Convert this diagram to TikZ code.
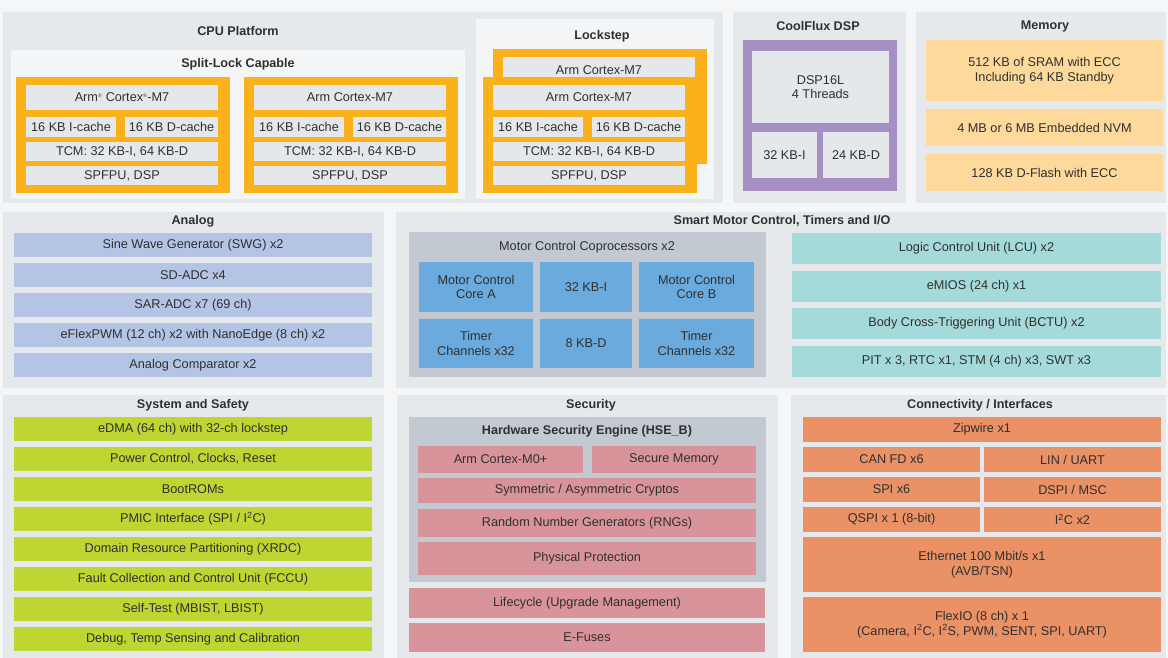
\documentclass[tikz,border=0pt]{standalone}
\usepackage{fontspec}
\setmainfont{Liberation Sans}
\definecolor{bgc}{HTML}{F4F6F8}
\definecolor{panelc}{HTML}{E5E9EC}
\definecolor{innerc}{HTML}{F3F5F7}
\definecolor{cellc}{HTML}{E4E8EB}
\definecolor{orc}{HTML}{FAB11C}
\definecolor{purc}{HTML}{A68FC2}
\definecolor{memc}{HTML}{FDD99B}
\definecolor{anac}{HTML}{B3C4E5}
\definecolor{grayc}{HTML}{C2C9D0}
\definecolor{bluec}{HTML}{6AAADD}
\definecolor{tealc}{HTML}{A5DADB}
\definecolor{grnc}{HTML}{BED532}
\definecolor{pinkc}{HTML}{D9939B}
\definecolor{conc}{HTML}{EA9165}
\definecolor{txtc}{HTML}{303030}
\newcommand{\mybox}[7]{\node[#6, minimum width={(#4-(#2))*1pt}, minimum height={(#5-(#3))*1pt}] (#1) at ({(#2+#4)/2},{(#3+#5)/2}) {#7};}
\tikzset{
  blk/.style={draw=none, inner sep=1pt, outer sep=0pt, align=center, text=txtc, font=\fontsize{12.7}{14.5}\selectfont},
  panel/.style={blk, fill=panelc},
  inner/.style={blk, fill=innerc},
  cell/.style={blk, fill=cellc},
  orange/.style={blk, fill=orc},
  purple/.style={blk, fill=purc},
  mem/.style={blk, fill=memc},
  ana/.style={blk, fill=anac},
  gbox/.style={blk, fill=grayc},
  blue/.style={blk, fill=bluec},
  teal/.style={blk, fill=tealc},
  grn/.style={blk, fill=grnc},
  pink/.style={blk, fill=pinkc},
  con/.style={blk, fill=conc},
  ttl/.style={inner sep=0pt, text=txtc, font=\fontsize{12.6}{14.5}\selectfont\bfseries},
  sub/.style={inner sep=0pt, text=txtc, font=\fontsize{12.7}{14.5}\selectfont},
}
\begin{document}
\begin{tikzpicture}[x=1pt,y=-1pt]
\useasboundingbox (0,0) rectangle (1168,658);
\fill[bgc] (0,0) rectangle (1168,658);
% ---------- CPU platform
\mybox{pcpu}{3}{12}{723}{203}{panel}{}
\mybox{psplit}{11}{50}{465}{199}{inner}{}
\mybox{plock}{476}{19}{714}{199}{inner}{}
\node[ttl] (tcpu) at (238,31) {CPU Platform};
\node[ttl] (tsplit) at (238,64) {Split-Lock Capable};
\node[ttl] (tlock) at (602,36) {Lockstep};
% core 1
\mybox{oa}{16}{77}{230}{193}{orange}{}
\mybox{a1}{26}{85}{218}{110}{cell}{Arm\textsuperscript{\tiny®} Cortex\textsuperscript{\tiny®}-M7}
\mybox{a2}{26}{117}{116}{137}{cell}{16 KB I-cache}
\mybox{a3}{125}{117}{218}{137}{cell}{16 KB D-cache}
\mybox{a4}{26}{142}{218}{161}{cell}{TCM: 32 KB-I, 64 KB-D}
\mybox{a5}{26}{166}{218}{185}{cell}{SPFPU, DSP}
% core 2
\mybox{ob}{244}{77}{458}{193}{orange}{}
\mybox{b1}{254}{85}{446}{110}{cell}{Arm Cortex-M7}
\mybox{b2}{254}{117}{344}{137}{cell}{16 KB I-cache}
\mybox{b3}{353}{117}{446}{137}{cell}{16 KB D-cache}
\mybox{b4}{254}{142}{446}{161}{cell}{TCM: 32 KB-I, 64 KB-D}
\mybox{b5}{254}{166}{446}{185}{cell}{SPFPU, DSP}
% lockstep back
\mybox{oc}{493}{49}{707}{164}{orange}{}
\mybox{c0}{503}{57}{695}{83}{cell}{Arm Cortex-M7}
% lockstep front
\mybox{od}{483}{77}{697}{193}{orange}{}
\mybox{d1}{493}{85}{685}{110}{cell}{Arm Cortex-M7}
\mybox{d2}{493}{117}{583}{137}{cell}{16 KB I-cache}
\mybox{d3}{592}{117}{685}{137}{cell}{16 KB D-cache}
\mybox{d4}{493}{142}{685}{161}{cell}{TCM: 32 KB-I, 64 KB-D}
\mybox{d5}{493}{166}{685}{185}{cell}{SPFPU, DSP}
% ---------- CoolFlux
\mybox{pdsp}{733}{12}{906}{203}{panel}{}
\node[ttl] (tdsp) at (818,26) {CoolFlux DSP};
\mybox{pu}{743}{40}{897}{191}{purple}{}
\mybox{e1}{752}{51}{889}{123}{cell}{DSP16L\\4 Threads}
\mybox{e2}{752}{132}{817}{178}{cell}{32 KB-I}
\mybox{e3}{823}{132}{889}{178}{cell}{24 KB-D}
% ---------- Memory
\mybox{pmem}{916}{12}{1166}{203}{panel}{}
\node[ttl] (tmem) at (1045,26) {Memory};
\mybox{m1}{926}{40}{1163}{101}{mem}{512 KB of SRAM with ECC\\Including 64 KB Standby}
\mybox{m2}{926}{109}{1163}{146}{mem}{4 MB or 6 MB Embedded NVM}
\mybox{m3}{926}{154}{1163}{191}{mem}{128 KB D-Flash with ECC}
% ---------- Analog
\mybox{pana}{3}{212}{384}{388}{panel}{}
\node[ttl] (tana) at (193,221) {Analog};
\mybox{n1}{14}{233}{372}{257}{ana}{Sine Wave Generator (SWG) x2}
\mybox{n2}{14}{263}{372}{287}{ana}{SD-ADC x4}
\mybox{n3}{14}{293}{372}{317}{ana}{SAR-ADC x7 (69 ch)}
\mybox{n4}{14}{323}{372}{347}{ana}{eFlexPWM (12 ch) x2 with NanoEdge (8 ch) x2}
\mybox{n5}{14}{353}{372}{377}{ana}{Analog Comparator x2}
% ---------- Smart motor control
\mybox{pmot}{396}{212}{1166}{388}{panel}{}
\node[ttl] (tmot) at (782,221) {Smart Motor Control, Timers and I/O};
\mybox{g0}{409}{232}{766}{377}{gbox}{}
\node[sub] (tg0) at (587,247) {Motor Control Coprocessors x2};
\mybox{k1}{419}{262}{533}{312}{blue}{Motor Control\\Core A}
\mybox{k2}{540}{262}{632}{312}{blue}{32 KB-I}
\mybox{k3}{639}{262}{754}{312}{blue}{Motor Control\\Core B}
\mybox{k4}{419}{319}{533}{368}{blue}{Timer\\Channels x32}
\mybox{k5}{540}{319}{632}{368}{blue}{8 KB-D}
\mybox{k6}{639}{319}{754}{368}{blue}{Timer\\Channels x32}
\mybox{t1}{792}{233}{1161}{264}{teal}{Logic Control Unit (LCU) x2}
\mybox{t2}{792}{271}{1161}{302}{teal}{eMIOS (24 ch) x1}
\mybox{t3}{792}{308}{1161}{339}{teal}{Body Cross-Triggering Unit (BCTU) x2}
\mybox{t4}{792}{346}{1161}{377}{teal}{PIT x 3, RTC x1, STM (4 ch) x3, SWT x3}
% ---------- System and safety
\mybox{psys}{3}{395}{384}{658}{panel}{}
\node[ttl] (tsys) at (193,405) {System and Safety};
\mybox{s1}{14}{417}{372}{441}{grn}{eDMA (64 ch) with 32-ch lockstep}
\mybox{s2}{14}{447}{372}{471}{grn}{Power Control, Clocks, Reset}
\mybox{s3}{14}{477}{372}{501}{grn}{BootROMs}
\mybox{s4}{14}{507}{372}{531}{grn}{PMIC Interface (SPI / I\textsuperscript{2}C)}
\mybox{s5}{14}{537}{372}{561}{grn}{Domain Resource Partitioning (XRDC)}
\mybox{s6}{14}{567}{372}{591}{grn}{Fault Collection and Control Unit (FCCU)}
\mybox{s7}{14}{597}{372}{621}{grn}{Self-Test (MBIST, LBIST)}
\mybox{s8}{14}{627}{372}{651}{grn}{Debug, Temp Sensing and Calibration}
% ---------- Security
\mybox{psec}{397}{395}{778}{658}{panel}{}
\node[ttl] (tsec) at (591,405) {Security};
\mybox{h0}{409}{417}{766}{582}{gbox}{}
\node[ttl] (th0) at (587,431) {Hardware Security Engine (HSE\_B)};
\mybox{h1}{418}{446}{583}{473}{pink}{Arm Cortex-M0+}
\mybox{h2}{592}{446}{756}{473}{pink}{Secure Memory}
\mybox{h3}{418}{478}{756}{503}{pink}{Symmetric / Asymmetric Cryptos}
\mybox{h4}{418}{509}{756}{537}{pink}{Random Number Generators (RNGs)}
\mybox{h5}{418}{542}{756}{575}{pink}{Physical Protection}
\mybox{h6}{409}{588}{765}{618}{pink}{Lifecycle (Upgrade Management)}
\mybox{h7}{409}{623}{765}{652}{pink}{E-Fuses}
% ---------- Connectivity
\mybox{pcon}{791}{395}{1166}{658}{panel}{}
\node[ttl] (tcon) at (980,405) {Connectivity / Interfaces};
\mybox{c1}{803}{417}{1161}{442}{con}{Zipwire x1}
\mybox{c2}{803}{447}{980}{472}{con}{CAN FD x6}
\mybox{c3}{984}{447}{1161}{472}{con}{LIN / UART}
\mybox{c4}{803}{477}{980}{502}{con}{SPI x6}
\mybox{c5}{984}{477}{1161}{502}{con}{DSPI / MSC}
\mybox{c6}{803}{507}{980}{532}{con}{QSPI x 1 (8-bit)}
\mybox{c7}{984}{507}{1161}{532}{con}{I\textsuperscript{2}C x2}
\mybox{c8}{803}{537}{1161}{592}{con}{Ethernet 100 Mbit/s x1\\(AVB/TSN)}
\mybox{c9}{803}{597}{1161}{652}{con}{FlexIO (8 ch) x 1\\(Camera, I\textsuperscript{2}C, I\textsuperscript{2}S, PWM, SENT, SPI, UART)}
\end{tikzpicture}
\end{document}
